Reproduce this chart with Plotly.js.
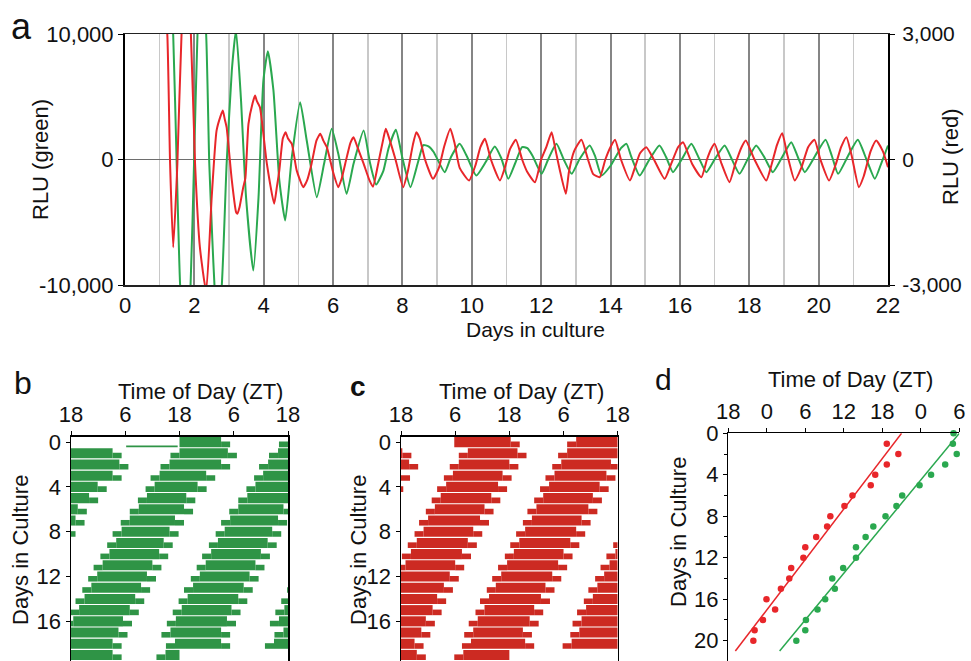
<!DOCTYPE html>
<html><head><meta charset="utf-8">
<script src="https://cdn.plot.ly/plotly-3.0.1.min.js"></script>
<style>html,body{margin:0;padding:0;background:#fff}#chart{width:971px;height:661px}</style>
</head><body><div id="chart"></div>
<script>
// ---------- Panel a: bioluminescence traces (days in culture, RLU) ----------
const greenDays = [1.30,1.39,1.49,1.59,1.75,1.89,1.99,2.09,2.20,2.34,2.43,2.52,2.58,2.66,2.79,2.93,3.08,3.20,3.34,3.49,3.70,3.85,3.99,4.12,4.28,4.45,4.62,4.81,5.05,5.24,5.53,5.74,5.96,6.15,6.39,6.59,6.88,7.07,7.24,7.45,7.60,7.81,8.00,8.23,8.45,8.60,8.75,8.90,9.22,9.40,9.65,9.85,10.13,10.40,10.66,10.85,11.05,11.25,11.45,11.60,11.75,12.01,12.20,12.44,12.65,12.88,13.10,13.40,13.55,13.74,14.00,14.30,14.46,14.60,14.84,15.10,15.41,15.60,15.80,16.05,16.33,16.55,16.76,17.00,17.29,17.50,17.72,17.95,18.20,18.45,18.68,18.95,19.21,19.40,19.60,19.90,20.20,20.38,20.56,20.85,21.13,21.38,21.62,21.82,22.00];
const greenRLU = [14000,9900,-345,-10040,-16000,-10040,-345,9960,15000,9960,-345,-6500,-10040,-13000,-10040,-345,7090,10300,4970,-3000,-8845,-3000,6290,8632,5500,-1670,-4860,190,4568,1514,-3000,-345,2443,450,-2735,-345,2310,-345,-2000,-900,900,2364,100,-2204,-200,1150,1050,600,-1009,200,1248,300,-1275,-200,1036,100,-1540,-300,983,900,300,-1142,0,1248,0,-1142,0,1116,300,-1275,-500,900,1248,200,-1275,-100,1116,200,-1009,0,1248,100,-1009,0,1116,0,-1142,0,1116,100,-1009,200,1381,200,-1009,300,1567,300,-1142,300,1567,0,-1540,-200,1116];
const redDays = [1.15,1.22,1.30,1.39,1.51,1.63,1.77,1.90,2.02,2.16,2.34,2.50,2.64,2.76,2.82,2.88,2.93,3.08,3.20,3.24,3.30,3.41,3.47,3.56,3.68,3.75,3.80,3.89,4.09,4.30,4.38,4.45,4.55,4.63,4.70,4.81,4.95,5.14,5.25,5.38,5.52,5.63,5.72,5.82,6.00,6.15,6.25,6.35,6.50,6.59,6.70,6.88,7.05,7.15,7.30,7.45,7.52,7.62,7.80,8.02,8.15,8.30,8.40,8.50,8.65,8.88,9.05,9.20,9.38,9.50,9.65,9.92,10.10,10.25,10.38,10.55,10.81,10.95,11.10,11.27,11.45,11.60,11.82,12.00,12.15,12.30,12.42,12.55,12.71,12.80,12.95,13.16,13.35,13.50,13.69,13.85,14.00,14.13,14.30,14.56,14.70,14.85,15.03,15.25,15.56,15.75,15.95,16.09,16.35,16.62,16.78,16.90,17.00,17.20,17.43,17.60,17.78,17.90,18.15,18.49,18.65,18.80,18.95,19.10,19.31,19.50,19.70,19.88,20.05,20.30,20.50,20.65,20.80,20.95,21.16,21.30,21.50,21.66,21.85,22.00];
const redRLU = [3600,2990,-100,-2096,-100,2990,4500,2990,-100,-2100,-3150,-900,690,1050,1171,950,770,-500,-1250,-1299,-1150,-660,-450,850,1350,1530,1400,1250,-100,-1060,-650,-260,500,653,500,375,-260,-661,-500,-100,450,614,450,295,-300,-661,-450,-100,400,534,300,-100,-500,-650,-100,500,733,500,0,-661,-300,350,653,500,0,-462,-200,300,733,400,-200,-502,-150,300,494,0,-502,-200,250,470,0,-300,-542,0,300,653,200,-300,-821,-300,200,470,0,-350,-422,0,300,470,0,-502,-200,150,295,0,-462,-100,300,414,-100,-422,0,250,374,-100,-542,-100,300,454,0,-502,-100,350,630,100,-502,-200,300,470,0,-502,-100,300,534,100,-661,-400,200,454,200,-183];
const dayTicks = [0,2,4,6,8,10,12,14,16,18,20,22];
const oddDays = [1,3,5,7,9,11,13,15,17,19,21];
const greenAxisTicks = [-10000,0,10000];
const greenAxisText = ['-10,000','0','10,000'];
const redAxisTicks = [-3000,0,3000];
const redAxisText = ['-3,000','0','3,000'];

// ---------- Panels b, c: actograms (hours from ZT18 of day 0) ----------
const greenBandStart = [24.0,48.0,69.8,91.6,114.5,136.8,159.0,181.0,203.2,226.0,248.5,271.0,293.8,316.5,339.0,361.8,384.5,407.2,430.0,455.0,476.9];
const greenBandEnd   = [33.2,58.7,81.2,101.9,124.0,145.5,169.0,191.0,213.8,236.5,259.5,282.0,304.8,327.5,350.2,373.0,395.5,418.5,441.2,465.2,480.0];
const greenLowStart = [12.2], greenLowEnd = [23.6];   // faint low-level signal at the start of recording
const redBandStart = [11.8,38.8,60.8,83.5,106.0,128.8,151.5,174.0,197.0,219.5,242.2,265.0,287.5,310.2,333.0,355.5,378.5,401.0,424.0,447.5,469.8];
const redBandEnd   = [24.3,49.8,72.0,94.5,117.5,140.0,162.5,185.5,208.0,230.8,253.5,276.0,298.8,321.5,344.0,367.0,389.5,412.5,435.0,459.5,480.0];
const recordStart = 11.8, recordEnd = 480.0;
const actoRows = 20;
const actoTickVals = [0,12,24,36,48];
const actoTickText = ['18','6','18','6','18'];
const actoDayTicks = [0,4,8,12,16];

// ---------- Panel d: peak phase per day ----------
const redPeakDays = [1,2,3,4,5,6,7,8,9,10,11,12,13,14,15,16,17,18,19,20];
const redPeakZT = [18.7,20.5,18.7,16.9,16.2,13.35,12.1,9.9,9.4,7.7,6.0,5.7,3.8,3.5,2.2,-0.05,1.3,-0.6,-1.9,-2.1];
const greenPeakDays = [0,1,2,3,4,5,6,7,8,9,10,11,12,13,14,15,16,17,18,19,20];
const greenPeakZT = [29.1,29.0,29.6,27.8,25.6,23.8,21.1,20.2,18.5,16.6,15.4,13.9,13.9,11.9,10.2,10.6,9.1,7.9,6.1,6.0,4.6];
const redFitZT = [21.0,-4.9], redFitDays = [0,21];
const greenFitZT = [30.0,2.0], greenFitDays = [0,21];
const dTickVals = [-6,0,6,12,18,24,30];
const dTickText = ['18','0','6','12','18','0','6'];
const dDayTicks = [0,4,8,12,16,20];

// ---------- build ----------
const W = 971, H = 661;
const px = v => v / W, py = v => 1 - v / H;
const FONT = 'Liberation Sans, Arial, Helvetica, sans-serif';
const GREEN = '#2aa84f', RED = '#e8262a', AGREEN = '#2f9446', ARED = '#cc2a22';
const SHOULDER = 2.0;   // low-level edge of each active band (drawn at partial height)

function actoBars(starts, ends, pad, yOff, minStart) {
  const ys = [], xs = [], bases = [];
  for (let r = 0; r < actoRows; r++) {
    const w0 = 24 * r, w1 = w0 + 48;
    for (let i = 0; i < starts.length; i++) {
      const segs = pad ? [[starts[i] - pad, starts[i]], [ends[i], ends[i] + pad]] : [[starts[i], ends[i]]];
      for (const [s, e] of segs) {
        const a = Math.max(s, w0, minStart), b = Math.min(e, w1, recordEnd);
        if (b > a) { ys.push(r + yOff); xs.push(b - a); bases.push(a - w0); }
      }
    }
  }
  return {ys, xs, bases};
}
const gb = actoBars(greenBandStart, greenBandEnd, 0, 0, recordStart);
const gs = actoBars(greenBandStart, greenBandEnd, SHOULDER, 0.2, 24);
const gl = actoBars(greenLowStart, greenLowEnd, 0, 0.38, recordStart);
const rb = actoBars(redBandStart, redBandEnd, 0, 0, recordStart);
const rs = actoBars(redBandStart, redBandEnd, SHOULDER, 0.2, 24);

const barT = (d, color, w, xa, ya) => ({type: 'bar', orientation: 'h', y: d.ys, x: d.xs, base: d.bases, width: w,
  marker: {color: color, line: {width: 0}}, xaxis: xa, yaxis: ya});

const traces = [
  {x: greenDays, y: greenRLU, type: 'scatter', mode: 'lines', line: {color: GREEN, width: 2, shape: 'spline', smoothing: 0.5}, xaxis: 'x', yaxis: 'y'},
  {x: redDays, y: redRLU, type: 'scatter', mode: 'lines', line: {color: RED, width: 2, shape: 'spline', smoothing: 0.5}, xaxis: 'x', yaxis: 'y2'},
  barT(gb, AGREEN, 0.9, 'x2', 'y3'),
  barT(gs, AGREEN, 0.5, 'x2', 'y3'),
  barT(gl, AGREEN, 0.14, 'x2', 'y3'),
  barT(rb, ARED, 0.9, 'x3', 'y4'),
  barT(rs, ARED, 0.5, 'x3', 'y4'),
  {x: redFitZT, y: redFitDays, type: 'scatter', mode: 'lines', line: {color: RED, width: 1.5}, xaxis: 'x4', yaxis: 'y5'},
  {x: greenFitZT, y: greenFitDays, type: 'scatter', mode: 'lines', line: {color: GREEN, width: 1.5}, xaxis: 'x4', yaxis: 'y5'},
  {x: redPeakZT, y: redPeakDays, type: 'scatter', mode: 'markers', marker: {color: RED, size: 6.5}, xaxis: 'x4', yaxis: 'y5', cliponaxis: false},
  {x: greenPeakZT, y: greenPeakDays, type: 'scatter', mode: 'markers', marker: {color: GREEN, size: 6.5}, xaxis: 'x4', yaxis: 'y5', cliponaxis: false}
];

const FS = 22;
const tf = {family: FONT, size: FS, color: '#111'};
const actoX = (dom, anchor) => ({domain: dom, anchor: anchor, side: 'top', range: [0, 48], tickvals: actoTickVals, ticktext: actoTickText,
  showline: true, linecolor: '#000', linewidth: 1.5, ticks: 'outside', ticklen: 4, tickcolor: '#000', showgrid: false, zeroline: false, tickfont: tf, ticklabelstandoff: 0});
const actoY = (anchor) => ({domain: [0, py(436.5)], anchor: anchor, range: [19.54, -0.5], tickvals: actoDayTicks,
  showline: true, mirror: true, linecolor: '#000', linewidth: 1.5, ticks: 'outside', ticklen: 4, tickcolor: '#000', showgrid: false, zeroline: false, tickfont: tf});

const ann = (text, x, y, size, extra) => Object.assign({text: text, x: px(x), y: py(y), xref: 'paper', yref: 'paper', showarrow: false,
  xanchor: 'center', yanchor: 'middle', font: {family: FONT, size: size, color: '#111'}}, extra || {});

const layout = {
  width: W, height: H, margin: {l: 0, r: 0, t: 0, b: 0}, paper_bgcolor: '#fff', plot_bgcolor: '#fff',
  showlegend: false, barmode: 'overlay', font: {family: FONT, color: '#111'},
  xaxis: {domain: [px(125), px(888)], anchor: 'y', range: [0, 22], tickvals: dayTicks, showline: true, mirror: true, linecolor: '#222', linewidth: 1.5,
    showgrid: true, gridcolor: '#858585', gridwidth: 2, minor: {tickmode: 'array', tickvals: oddDays, showgrid: true, gridcolor: '#c8c8c8', gridwidth: 1.5},
    zeroline: false, ticks: '', tickfont: tf, ticklabelstandoff: 0},
  yaxis: {domain: [py(285), py(34)], anchor: 'x', range: [-10000, 10000], tickvals: greenAxisTicks, ticktext: greenAxisText, showline: true, linecolor: '#000', linewidth: 2,
    ticks: 'outside', ticklen: 5, tickcolor: '#000', showgrid: false, zeroline: true, zerolinecolor: '#6e6e6e', zerolinewidth: 1.2, tickfont: tf, ticklabelstandoff: 0},
  yaxis2: {overlaying: 'y', side: 'right', anchor: 'x', range: [-3000, 3000], tickvals: redAxisTicks, ticktext: redAxisText, showline: true, linecolor: '#000', linewidth: 2,
    ticks: 'outside', ticklen: 5, tickcolor: '#000', showgrid: false, zeroline: false, tickfont: {family: FONT, size: 21, color: '#111'}, ticklabelstandoff: 3},
  xaxis2: actoX([px(71), px(288)], 'y3'),
  yaxis3: actoY('x2'),
  xaxis3: actoX([px(401), px(617.7)], 'y4'),
  yaxis4: actoY('x3'),
  xaxis4: {domain: [px(728.3), px(959.3)], anchor: 'y5', side: 'top', range: [-6, 30], tickvals: dTickVals, ticktext: dTickText,
    showline: true, linecolor: '#000', linewidth: 1.5, ticks: 'outside', ticklen: 4, tickcolor: '#000', showgrid: false, zeroline: false, tickfont: tf, ticklabelstandoff: 0},
  yaxis5: {domain: [0, py(433.3)], anchor: 'x4', range: [21.96, 0], tickvals: dDayTicks, showline: true, linecolor: '#000', linewidth: 1.5,
    ticks: 'outside', ticklen: 4, tickcolor: '#000', showgrid: false, zeroline: false, tickfont: tf,
    minor: {dtick: 2, ticks: 'outside', ticklen: 3, tickcolor: '#000'}},
  annotations: [
    ann('a', 21, 26, 36),
    ann('RLU (green)', 40, 160, FS, {textangle: -90}),
    ann('RLU (red)', 950, 157, FS, {textangle: -90}),
    ann('Days in culture', 535, 329, 21),
    ann('b', 23, 383, 32),
    ann('Time of Day (ZT)', 200, 391, FS),
    ann('Days in Culture', 20, 550, FS, {textangle: -90}),
    ann('<b>c</b>', 358, 386, 28),
    ann('Time of Day (ZT)', 521, 391, FS),
    ann('Days in Culture', 358, 550, FS, {textangle: -90}),
    ann('d', 663, 380, 30),
    ann('Time of Day (ZT)', 850, 380, FS),
    ann('Days in Culture', 678, 532, FS, {textangle: -90})
  ]
};

Plotly.newPlot('chart', traces, layout, {staticPlot: true, displayModeBar: false});
</script>
</body></html>
